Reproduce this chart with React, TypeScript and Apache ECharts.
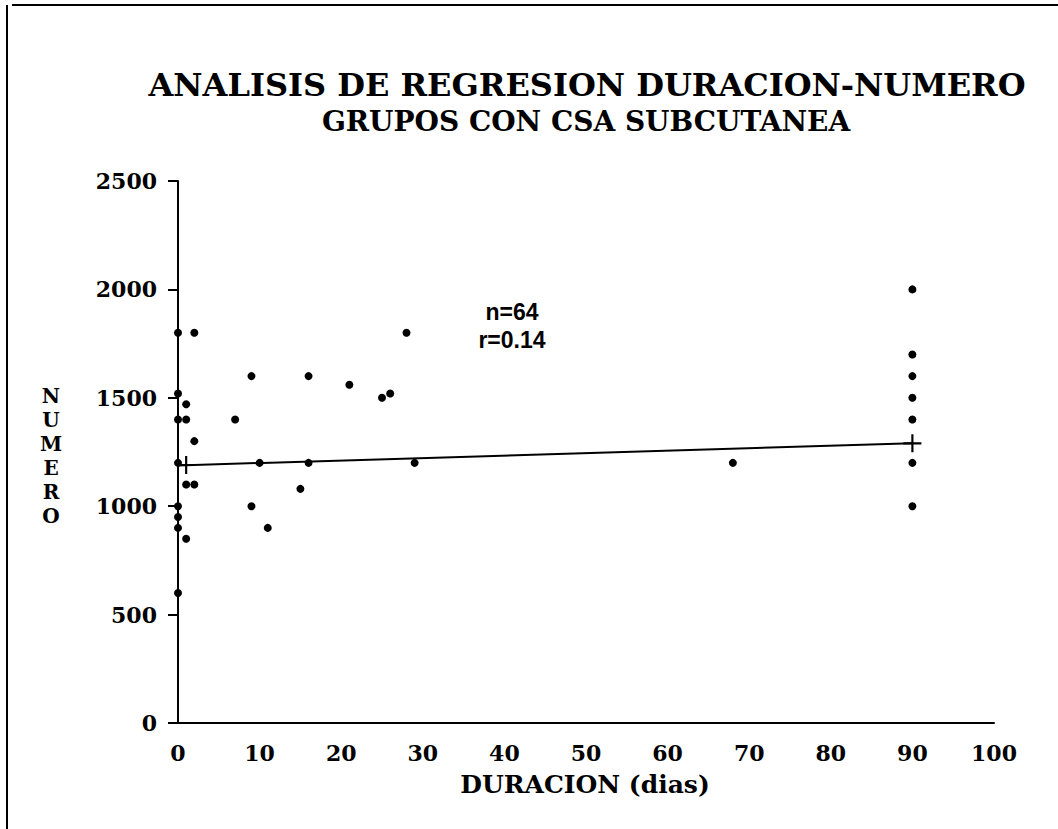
import React, { useEffect, useRef } from "react";
import * as echarts from "echarts";

const titleText = "ANALISIS DE REGRESION DURACION-NUMERO";
const subtitleText = "GRUPOS CON CSA SUBCUTANEA";
const xAxisName = "DURACION (dias)";
const yAxisName = "NUMERO";
const statsLines = ["n=64", "r=0.14"];

// duration (days) and number for each observed point
const durX = [
  0, 0, 0, 0, 0, 0, 0, 0,
  1, 1, 1, 1,
  2, 2, 2,
  7, 9, 9, 10, 11, 15, 16, 16, 21, 25, 26, 28, 29, 68,
  90, 90, 90, 90, 90, 90, 90,
];
const numY = [
  1800, 1520, 1400, 1200, 1000, 950, 900, 600,
  1470, 1400, 1100, 850,
  1800, 1300, 1100,
  1400, 1600, 1000, 1200, 900, 1080, 1600, 1200, 1560, 1500, 1520, 1800, 1200, 1200,
  2000, 1700, 1600, 1500, 1400, 1200, 1000,
];

// regression line endpoints
const regX = [0, 90];
const regY = [1188, 1290];
// cross marks on regression line
const crossX = [1, 90];
const crossY = [1190, 1290];

const xTicks = { min: 0, max: 100, interval: 10 };
const yTicks = { min: 0, max: 2500, interval: 500 };

const SERIF = "'DejaVu Serif', 'Liberation Serif', serif";

export default function App() {
  const ref = useRef<HTMLDivElement>(null);
  useEffect(() => {
    if (!ref.current) return;
    const chart = echarts.init(ref.current, null, { renderer: "svg" });
    const pts = durX.map((x, i) => [x, numY[i]]);
    const line = regX.map((x, i) => [x, regY[i]]);
    const crosses = crossX.map((x, i) => [x, crossY[i]]);
    const yLetters = yAxisName.split("").map((ch, i) => ({
      type: "text",
      x: 51,
      y: 396 + i * 24,
      style: {
        text: ch,
        fill: "#000",
        fontFamily: SERIF,
        fontWeight: "bold",
        fontSize: 20,
        textAlign: "center",
        textVerticalAlign: "middle",
      },
    }));
    chart.setOption({
      animation: false,
      backgroundColor: "#ffffff",
      grid: { left: 178, right: 64, top: 181, bottom: 106, containLabel: false },
      xAxis: {
        type: "value",
        min: xTicks.min,
        max: xTicks.max,
        interval: xTicks.interval,
        splitLine: { show: false },
        axisLine: { lineStyle: { color: "#000", width: 2 } },
        axisTick: { show: false },
        axisLabel: {
          color: "#000",
          fontFamily: SERIF,
          fontWeight: "bold",
          fontSize: 22,
          margin: 19,
          formatter: (v: number) => String(v),
        },
      },
      yAxis: {
        type: "value",
        min: yTicks.min,
        max: yTicks.max,
        interval: yTicks.interval,
        splitLine: { show: false },
        axisLine: { show: true, lineStyle: { color: "#000", width: 2 } },
        axisTick: { show: true, length: 10, lineStyle: { color: "#000", width: 2 } },
        axisLabel: {
          color: "#000",
          fontFamily: SERIF,
          fontWeight: "bold",
          fontSize: 22,
          margin: 21,
          formatter: (v: number) => String(v),
        },
      },
      series: [
        {
          type: "line",
          data: line,
          symbol: "none",
          lineStyle: { color: "#000", width: 2 },
          z: 2,
        },
        {
          type: "scatter",
          data: crosses,
          symbol: "path://M0,4.4H10V5.6H0Z M4.4,0H5.6V10H4.4Z",
          symbolSize: 18,
          itemStyle: { color: "#000", opacity: 1 },
          z: 3,
        },
        {
          type: "scatter",
          data: pts,
          symbol: "circle",
          symbolSize: 8,
          itemStyle: { color: "#000", opacity: 1 },
          z: 4,
        },
      ],
      graphic: [
        {
          type: "line",
          shape: { x1: 7, y1: 5, x2: 7, y2: 829 },
          style: { stroke: "#000", lineWidth: 2 },
        },
        {
          type: "line",
          shape: { x1: 12, y1: 5, x2: 1058, y2: 5 },
          style: { stroke: "#000", lineWidth: 2 },
        },
        {
          type: "text",
          x: 587,
          y: 85,
          style: {
            text: titleText,
            fill: "#000",
            fontFamily: SERIF,
            fontWeight: "bold",
            fontSize: 32,
            textAlign: "center",
            textVerticalAlign: "middle",
          },
        },
        {
          type: "text",
          x: 586,
          y: 121,
          style: {
            text: subtitleText,
            fill: "#000",
            fontFamily: SERIF,
            fontWeight: "bold",
            fontSize: 28,
            textAlign: "center",
            textVerticalAlign: "middle",
          },
        },
        {
          type: "text",
          x: 585,
          y: 784,
          style: {
            text: xAxisName,
            fill: "#000",
            fontFamily: SERIF,
            fontWeight: "bold",
            fontSize: 25,
            textAlign: "center",
            textVerticalAlign: "middle",
          },
        },
        ...yLetters,
        {
          type: "text",
          x: 512,
          y: 326,
          style: {
            text: statsLines.join("\n"),
            fill: "#000",
            fontFamily: "'Liberation Sans', Arial, sans-serif",
            fontWeight: "bold",
            fontSize: 23,
            lineHeight: 28,
            textAlign: "center",
            textVerticalAlign: "middle",
          },
        },
      ],
    });
    return () => chart.dispose();
  }, []);
  return (
    <div
      ref={ref}
      style={{ position: "fixed", left: 0, top: 0, width: 1058, height: 829, background: "#fff" }}
    />
  );
}
